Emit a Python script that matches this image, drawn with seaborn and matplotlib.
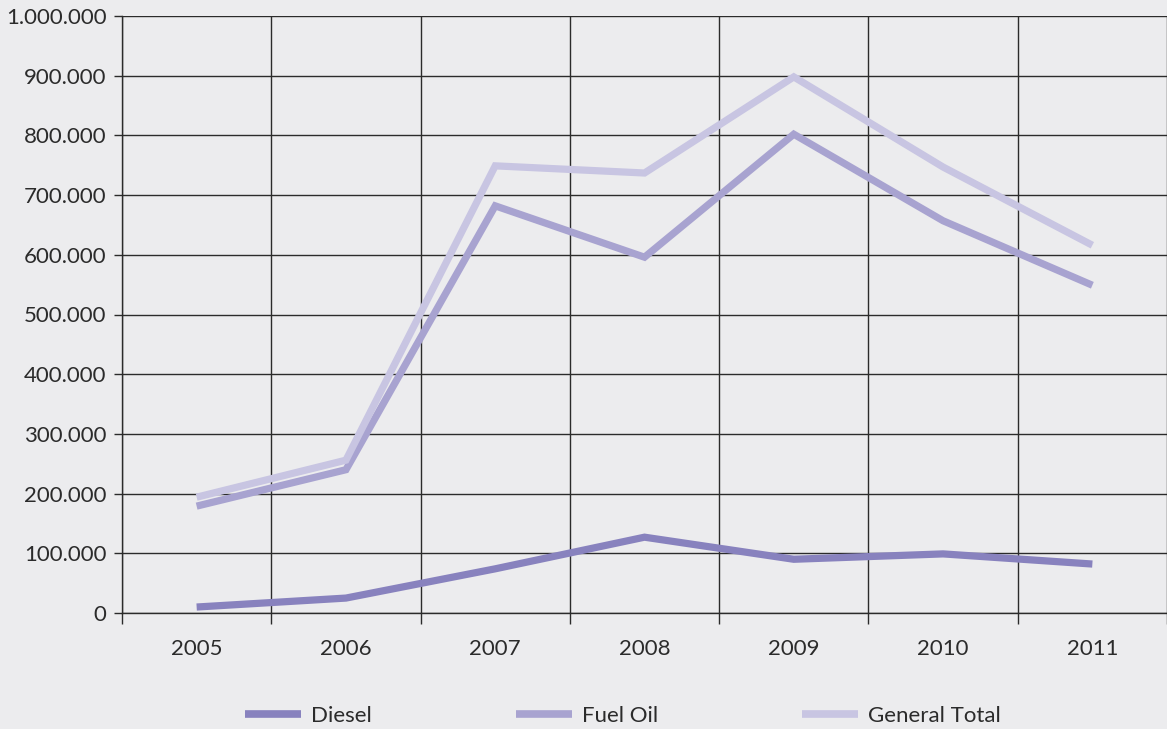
import numpy as np
import pandas as pd
import seaborn as sns
import matplotlib.pyplot as plt
from matplotlib.ticker import FuncFormatter, MultipleLocator

# data
years = ['2005', '2006', '2007', '2008', '2009', '2010', '2011']
diesel = [10000, 25000, 74000, 127000, 90000, 99000, 82000]
fuel_oil = [179000, 240000, 682000, 596000, 802000, 657000, 549000]
general_total = [194000, 256000, 749000, 737000, 898000, 747000, 616000]
series_names = ['Diesel', 'Fuel Oil', 'General Total']
colors = ['#8882be', '#a8a3d0', '#c8c5e2']

df = pd.DataFrame({
    'x': list(range(len(years))) * 3,
    'value': diesel + fuel_oil + general_total,
    'series': [n for n in series_names for _ in years],
})

sns.set_style('ticks')
plt.rcParams['font.family'] = ['Lato', 'DejaVu Sans']
bg = '#ececee'
ink = '#2b2b2b'
fs = 16

fig = plt.figure(figsize=(11.67, 7.29), dpi=100, facecolor=bg)
ax = fig.add_axes([122 / 1167, 1 - 613 / 729, 1 - 122 / 1167, (613 - 16) / 729])
ax.set_facecolor(bg)

sns.lineplot(data=df, x='x', y='value', hue='series', palette=colors,
             hue_order=series_names, linewidth=5.2, ax=ax, zorder=3)
for ln in ax.get_lines():
    ln.set_solid_joinstyle('miter')
    ln.set_solid_capstyle('butt')

ax.set_xlim(-0.5, len(years) - 0.5)
ax.set_ylim(0, 1000000)
ax.set_xticks(range(len(years)))
ax.set_xticklabels(years)
ax.set_xticks(np.arange(-0.5, len(years)), minor=True)
ax.yaxis.set_major_locator(MultipleLocator(100000))
ax.yaxis.set_major_formatter(FuncFormatter(lambda v, p: f'{v:,.0f}'.replace(',', '.')))

ax.tick_params(axis='x', which='major', length=0, pad=19, labelsize=fs, labelcolor=ink)
ax.tick_params(axis='x', which='minor', length=8, width=1, color=ink, direction='out')
ax.tick_params(axis='y', length=6, width=1, color=ink, pad=5, labelsize=fs, labelcolor=ink)

ax.grid(True, axis='y', which='major', color=ink, linewidth=1)
ax.grid(True, axis='x', which='minor', color=ink, linewidth=1)
ax.grid(False, axis='x', which='major')
ax.set_axisbelow(True)

for s in ['top', 'right']:
    ax.spines[s].set_visible(False)
for s in ['left', 'bottom']:
    ax.spines[s].set_color(ink)
    ax.spines[s].set_linewidth(1)
ax.set_xlabel('')
ax.set_ylabel('')

handles, labels = ax.get_legend_handles_labels()
ax.legend_.remove()
leg = fig.legend(handles, labels, loc='center', bbox_to_anchor=(623 / 1167, 1 - 716 / 729),
                 ncol=3, frameon=False, fontsize=fs, handlelength=2.5,
                 handletextpad=0.45, columnspacing=6.5, labelcolor=ink)
for h in leg.legend_handles:
    h.set_linewidth(5.5)

fig.savefig('out.png', dpi=100, facecolor=bg)
